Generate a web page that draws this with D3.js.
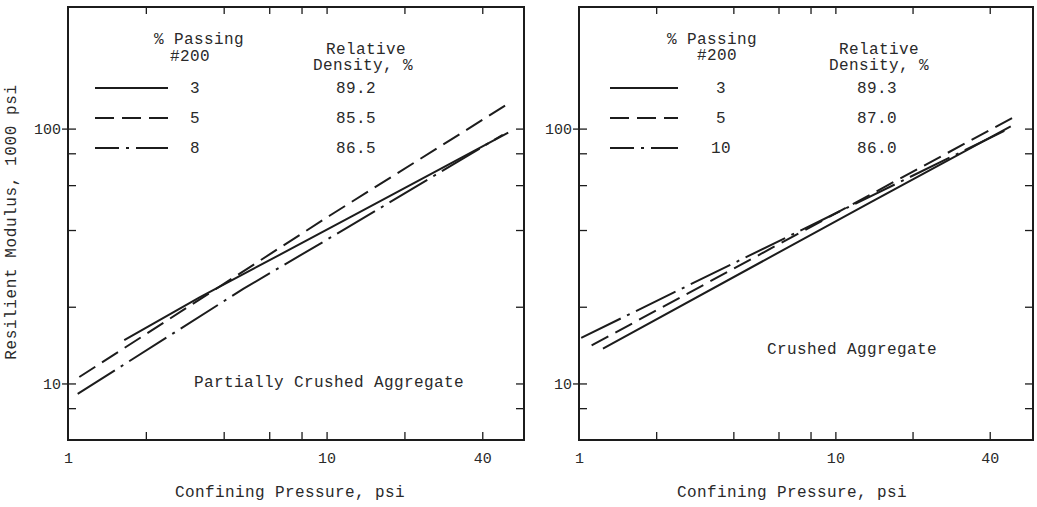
<!DOCTYPE html>
<html>
<head>
<meta charset="utf-8">
<script src="https://cdn.jsdelivr.net/npm/d3@7"></script>
<style>
  html, body { margin: 0; padding: 0; background: #fff; }
  svg { display: block; }
  text { font-family: "Liberation Mono", "Courier New", monospace; fill: #2a2a2a; }
</style>
</head>
<body>
<svg id="chart" width="1037" height="507"></svg>
<script>
// ---- data -------------------------------------------------------------
// Confining pressure (psi) vs resilient modulus (1000 psi), log-log.
const pressureTicks = [2, 4, 6, 8, 10, 20, 40];
const pressureLabels = [1, 10, 40];
const modulusTicks = [8, 10, 20, 40, 60, 80, 100];
const modulusLabels = [10, 100];

// Partially crushed aggregate
const partialPassing = ["3", "5", "8"];
const partialDensity = ["89.2", "85.5", "86.5"];
const partial3 = [[1.65, 14.8], [3.24, 21.8], [12.3, 44.8], [50.4, 96.4]];
const partial5 = [[1.106, 10.6], [10.3, 45.6], [49, 123]];
const partial8 = [[1.09, 9.1], [4.76, 23.5], [11.8, 40.4], [48, 94.6]];

// Crushed aggregate
const crushedPassing = ["3", "5", "10"];
const crushedDensity = ["89.3", "87.0", "86.0"];
const crushed3 = [[1.24, 13.7], [13.7, 51.4], [48.3, 102]];
const crushed5 = [[1.12, 14.1], [50.5, 112]];
const crushed10 = [[1.02, 15.1], [7.08, 39.2], [47.4, 99.8]];

// ---- styling ----------------------------------------------------------
const INK = "#1c1c1c";
const dashStyles = ["none", "19,8", "44,7,3,7"];
const legendDashOffset = [0, 0, 20];

const svg = d3.select("#chart");

const panels = [
  {
    x0: 68, x1: 524, xMax: 58,
    series: [partial3, partial5, partial8],
    passing: partialPassing, density: partialDensity,
    note: "Partially Crushed Aggregate", noteX: 329, noteY: 387,
    titleX: 290,
    leg: { lineA: 27, lineB: 100, num: 127, dens: 288, pass: 131, sieve: 122, rel: 298, dns: 295, sieveY: 61 }
  },
  {
    x0: 579, x1: 1033, xMax: 59,
    series: [crushed3, crushed5, crushed10],
    passing: crushedPassing, density: crushedDensity,
    note: "Crushed Aggregate", noteX: 852, noteY: 354,
    titleX: 792,
    leg: { lineA: 31, lineB: 99, num: 142, dens: 298, pass: 133, sieve: 138, rel: 300, dns: 300, sieveY: 60 }
  }
];

const yTop = 7, yBot = 440;
const rowY = [93, 123, 153];

panels.forEach(p => {
  const x = d3.scaleLog().domain([1, p.xMax]).range([p.x0, p.x1]);
  const y = d3.scaleLog().domain([6, 300]).range([yBot, yTop]);
  const g = svg.append("g");

  // inward minor/major ticks on all four sides
  const inner = [
    [d3.axisBottom(x).tickValues(pressureTicks).tickSize(-8), `translate(0,${yBot})`],
    [d3.axisTop(x).tickValues(pressureTicks).tickSize(-7), `translate(0,${yTop})`],
    [d3.axisLeft(y).tickValues(modulusTicks).tickSize(-8), `translate(${p.x0},0)`],
    [d3.axisRight(y).tickValues(modulusTicks).tickSize(-8), `translate(${p.x1},0)`]
  ];
  inner.forEach(([ax, tr]) => {
    const a = g.append("g").attr("transform", tr).call(ax.tickFormat(""));
    a.select(".domain").remove();
    a.selectAll(".tick line").attr("stroke", INK).attr("stroke-width", 1.3);
  });

  // labelled decades on the left (short outward tick) and bottom
  const yl = g.append("g").attr("transform", `translate(${p.x0},0)`)
    .call(d3.axisLeft(y).tickValues(modulusLabels).tickFormat(d3.format("d")).tickSize(6).tickPadding(1));
  yl.select(".domain").remove();
  yl.selectAll(".tick line").attr("stroke", INK).attr("stroke-width", 1.3);
  yl.selectAll("text").attr("font-size", 15).attr("fill", "#2a2a2a")
    .style("font-family", '"Liberation Mono", monospace');

  const xl = g.append("g").attr("transform", `translate(0,${yBot})`)
    .call(d3.axisBottom(x).tickValues(pressureLabels).tickFormat(d3.format("d")).tickSize(0).tickPadding(12));
  xl.select(".domain").remove();
  xl.selectAll("text").attr("font-size", 15).attr("fill", "#2a2a2a")
    .style("font-family", '"Liberation Mono", monospace');

  // frame
  g.append("rect")
    .attr("x", p.x0).attr("y", yTop)
    .attr("width", p.x1 - p.x0).attr("height", yBot - yTop)
    .attr("fill", "none").attr("stroke", INK).attr("stroke-width", 2);

  // fitted lines
  const line = d3.line().x(d => x(d[0])).y(d => y(d[1]));
  p.series.forEach((s, i) => {
    g.append("path")
      .datum(s)
      .attr("d", line)
      .attr("fill", "none")
      .attr("stroke", INK)
      .attr("stroke-width", 2)
      .attr("stroke-dasharray", dashStyles[i]);
  });

  // legend
  const L = p.leg;
  const txt = (tx, ty, s, anchor = "middle", size = 16) =>
    g.append("text").attr("x", tx).attr("y", ty).attr("text-anchor", anchor)
      .attr("font-size", size).attr("letter-spacing", 0.4).text(s);

  txt(p.x0 + L.pass, 44, "% Passing");
  txt(p.x0 + L.sieve, L.sieveY, "#200");
  txt(p.x0 + L.rel, 54, "Relative");
  txt(p.x0 + L.dns, 70, "Density, %");

  p.passing.forEach((v, i) => {
    g.append("line")
      .attr("x1", p.x0 + L.lineA).attr("x2", p.x0 + L.lineB)
      .attr("y1", rowY[i] - 5).attr("y2", rowY[i] - 5)
      .attr("stroke", INK).attr("stroke-width", 2.2)
      .attr("stroke-dasharray", dashStyles[i])
      .attr("stroke-dashoffset", legendDashOffset[i]);
    txt(p.x0 + L.num, rowY[i], v);
    txt(p.x0 + L.dens, rowY[i], p.density[i]);
  });

  // panel note and x-axis title
  txt(p.noteX, p.noteY, p.note);
  txt(p.titleX, 497, "Confining Pressure, psi");
});

// shared y-axis title
svg.append("text")
  .attr("transform", "translate(15.5,222) rotate(-90)")
  .attr("text-anchor", "middle")
  .attr("font-size", 16)
  .attr("letter-spacing", 0.6)
  .text("Resilient Modulus, 1000 psi");
</script>
</body>
</html>
